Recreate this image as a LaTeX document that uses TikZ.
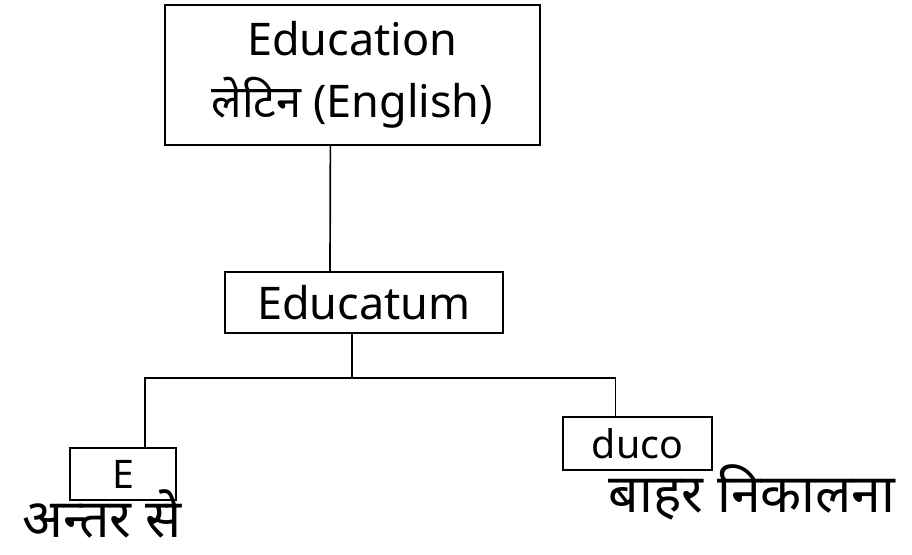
\documentclass[tikz,border=0pt]{standalone}
\usepackage{fontspec}
\setmainfont{Noto Sans}
\newfontfamily\hindi[Script=Devanagari]{Noto Sans}
\usetikzlibrary{calc}

\begin{document}
\begin{tikzpicture}[
        wordbox/.style={draw, line width=1.2pt, inner sep=0pt, align=center},
        link/.style={line width=1.2pt},
        txt/.style={font=\fontsize{28}{42}\selectfont},
        bigtxt/.style={font=\fontsize{32}{44}\selectfont},
        meaning/.style={inner sep=0pt, font=\fontsize{38}{46}\selectfont\hindi}
    ]
        \useasboundingbox (0,0) rectangle (22.8,-13.85);
        
        \node[wordbox, bigtxt, minimum width=9.375cm, minimum height=3.5cm] (latin) at (8.81,-1.875)
            {Education\\{\hindi लेटिन} (English)};
        \node[wordbox, bigtxt, minimum width=6.95cm, minimum height=1.525cm] (educatum) at (9.1,-7.56) {Educatum};
        \node[wordbox, txt, minimum width=2.65cm, minimum height=1.3cm] (e) at (3.075,-11.85) {E};
        \node[wordbox, txt, minimum width=3.725cm, minimum height=1.325cm] (duco) at (15.94,-11.09) {duco};
        
        \node[meaning] (eMeaning) at (2.55,-12.85) {अन्तर से};
        \node[meaning] (ducoMeaning) at (18.8,-12.3) {बाहर निकालना};
        
        %\draw[red] (latin.south) -- (educatum.north);
        \draw[link] ([xshift=-0.55cm]latin.south) -- ([xshift=-0.85cm]educatum.north);
        \coordinate (split) at ($(educatum.south)+(-0.3,-1.1)$);
        \draw[link] ([xshift=-0.3cm]educatum.south) -- (split);
        \draw[link] (split) -| ([xshift=0.55cm]e.north);
        \draw[link] (split) -| ([xshift=-0.55cm]duco.north);
    \end{tikzpicture}
\end{document}
